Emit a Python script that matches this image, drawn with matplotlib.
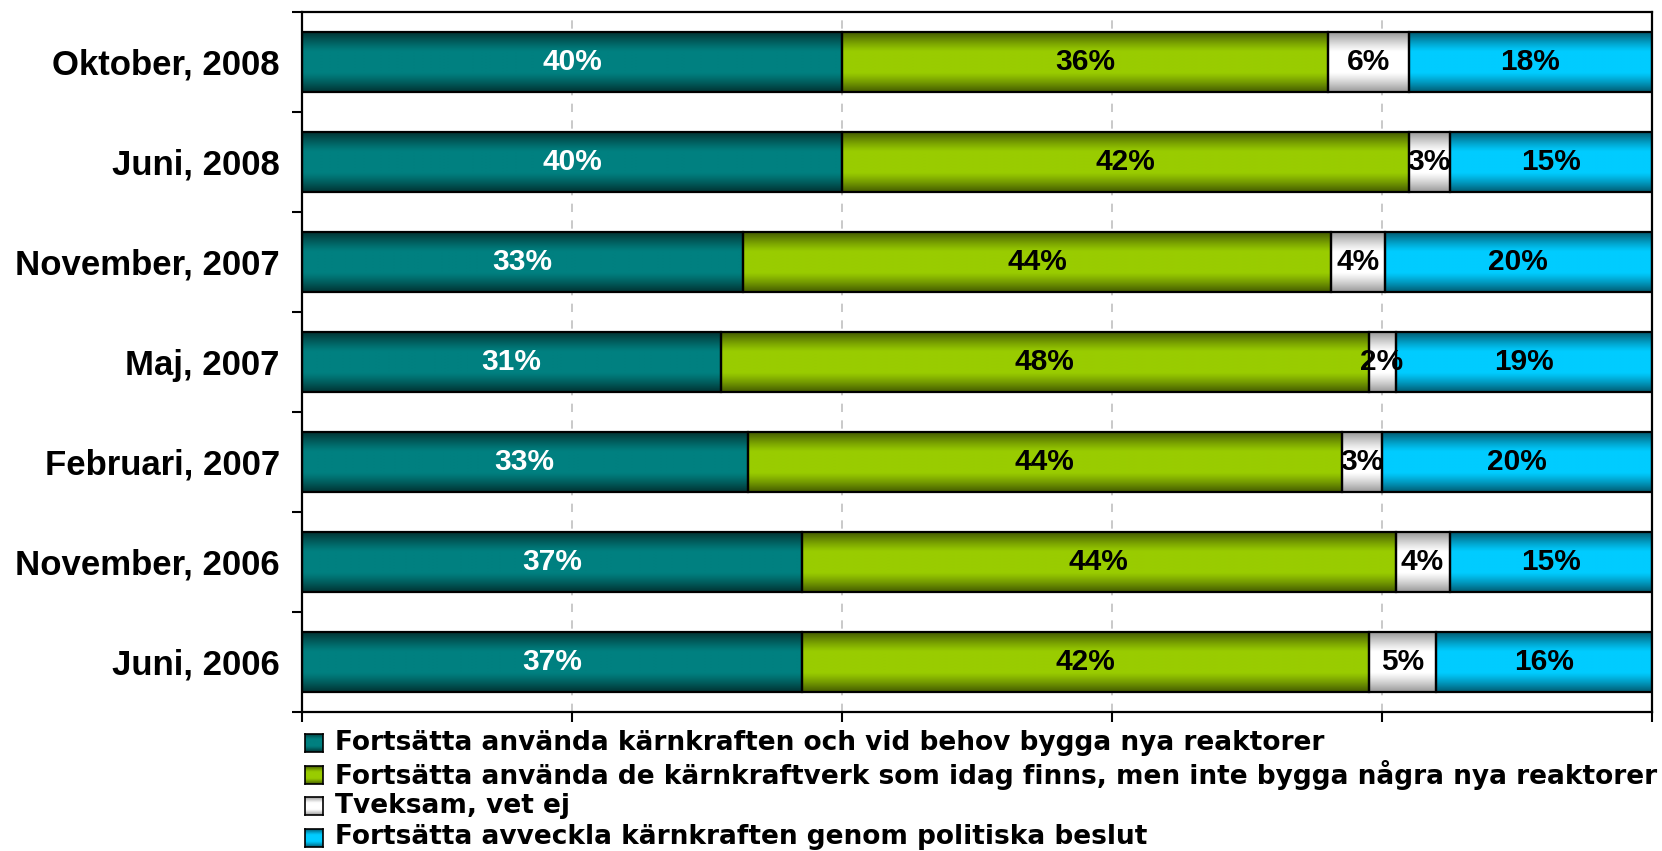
import numpy as np
import matplotlib
matplotlib.use('Agg')
import matplotlib.pyplot as plt

plt.rcParams['font.family'] = ['Liberation Sans', 'DejaVu Sans']

# data, bottom row first
periods = ['Juni, 2006', 'November, 2006', 'Februari, 2007', 'Maj, 2007',
           'November, 2007', 'Juni, 2008', 'Oktober, 2008']
bygga_nya = [37, 37, 33, 31, 33, 40, 40]
behalla = [42, 44, 44, 48, 44, 42, 36]
tveksam = [5, 4, 3, 2, 4, 3, 6]
avveckla = [16, 15, 20, 19, 20, 15, 18]

series_names = ['Fortsätta använda kärnkraften och vid behov bygga nya reaktorer',
                'Fortsätta använda de kärnkraftverk som idag finns, men inte bygga några nya reaktorer',
                'Tveksam, vet ej',
                'Fortsätta avveckla kärnkraften genom politiska beslut']
colors = ['#008080', '#99cc00', '#ffffff', '#00ccff']
edge_dark = [0.4, 0.45, 0.6, 0.45]
text_colors = ['white', 'black', 'black', 'black']

series = [bygga_nya, behalla, tveksam, avveckla]
vals = np.array(series, dtype=float)
totals = vals.sum(axis=0)
shares = vals / totals * 100  # rows sum to 100 even when rounded labels don't

fig = plt.figure(figsize=(16.62, 8.51), dpi=100)
ax = fig.add_axes([302/1662, 1-712/851, 1350/1662, 700/851])

bar_h = 0.6
u = np.abs(np.linspace(-1, 1, 80))
ramp = np.clip((u - 0.35) / 0.65, 0, 1) ** 1.2


def shaded(color, dark):
    rgb = np.array(matplotlib.colors.to_rgb(color))
    f = 1 - (1 - dark) * ramp
    return (f[:, None] * rgb[None, :])[:, None, :]


y = np.arange(len(periods))
left = np.zeros(len(periods))
for i in range(4):
    img = shaded(colors[i], edge_dark[i])
    for j in range(len(periods)):
        w = shares[i, j]
        ax.imshow(img, extent=[left[j], left[j] + w, y[j] - bar_h/2, y[j] + bar_h/2],
                  aspect='auto', interpolation='bilinear', zorder=2)
        ax.text(left[j] + w/2, y[j], '%d%%' % series[i][j], ha='center', va='center',
                fontsize=21.5, fontweight='bold', color=text_colors[i], zorder=4)
    ax.barh(y, shares[i], left=left, height=bar_h, fill=False, edgecolor='black',
            linewidth=1.6, zorder=3)
    left += shares[i]

ax.set_xlim(0, 100)
ax.set_ylim(-0.5, len(periods) - 0.5)
ax.set_xticks(range(0, 101, 20))
ax.set_xticklabels([])
ax.tick_params(axis='x', length=7, width=1.5, direction='out')
ax.set_yticks(y)
ax.set_yticklabels(periods, fontsize=25, fontweight='bold')
ax.tick_params(axis='y', which='major', length=0, pad=16)
ax.set_yticks(np.arange(-0.5, len(periods)), minor=True)
ax.tick_params(axis='y', which='minor', length=7, width=1.5, direction='out')
ax.grid(axis='x', color='#c0c0c0', linestyle=(0, (5, 5)), linewidth=1.2, zorder=0)
ax.set_axisbelow(True)
for s in ax.spines.values():
    s.set_linewidth(1.6)
    s.set_color('black')

# legend: shaded squares + text
for k, name in enumerate(series_names):
    yc = 743 + k * 31.5
    sq = fig.add_axes([305/1662, 1 - (yc + 9)/851, 18/1662, 18/851])
    sq.imshow(shaded(colors[k], edge_dark[k]), aspect='auto', interpolation='bilinear')
    sq.set_xticks([])
    sq.set_yticks([])
    for s in sq.spines.values():
        s.set_linewidth(1.2)
    fig.text(335/1662, 1 - yc/851, name, ha='left', va='center',
             fontsize=19, fontweight='bold', family='DejaVu Sans')

fig.savefig('out.png', dpi=100)
